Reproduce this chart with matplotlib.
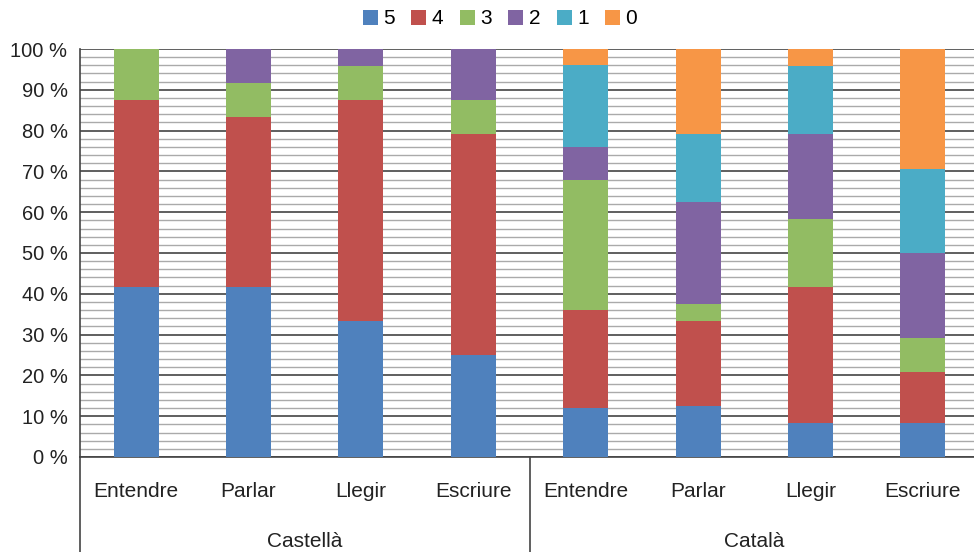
import numpy as np
import matplotlib.pyplot as plt
from matplotlib.patches import Patch
from matplotlib.ticker import MultipleLocator, FuncFormatter

plt.rcParams['font.family'] = ['Liberation Sans', 'DejaVu Sans']

# data (percent of answers per score)
skills = ["Entendre", "Parlar", "Llegir", "Escriure"]
groups = ["Castellà", "Català"]
scores = ["5", "4", "3", "2", "1", "0"]
colors = ["#4F81BD", "#C0504D", "#92BC63", "#8064A2", "#4BACC6", "#F79646"]

s5 = [41.7, 41.7, 33.3, 25.0, 12.0, 12.5, 8.3, 8.3]
s4 = [45.8, 41.7, 54.2, 54.2, 24.0, 20.8, 33.3, 12.5]
s3 = [12.5, 8.3, 8.3, 8.3, 32.0, 4.2, 16.7, 8.3]
s2 = [0.0, 8.3, 4.2, 12.5, 8.0, 25.0, 20.8, 20.8]
s1 = [0.0, 0.0, 0.0, 0.0, 20.0, 16.7, 16.7, 20.8]
s0 = [0.0, 0.0, 0.0, 0.0, 4.0, 20.8, 4.2, 29.2]
series = [s5, s4, s3, s2, s1, s0]

fig = plt.figure(figsize=(9.74, 5.52), dpi=100)
ax = fig.add_axes([80 / 974, 95 / 552, 899 / 974, 408 / 552])

x = np.arange(len(groups) * len(skills))
bottom = np.zeros(len(x))
for vals, col in zip(series, colors):
    vals = np.array(vals)
    ax.bar(x, vals, bottom=bottom, width=0.4, color=col, zorder=3)
    bottom += vals

ax.set_xlim(-0.5, len(x) - 0.5)
ax.set_ylim(0, 100)
ax.yaxis.set_major_locator(MultipleLocator(10))
ax.yaxis.set_minor_locator(MultipleLocator(2))
ax.yaxis.set_major_formatter(FuncFormatter(lambda v, p: f"{v:.0f} %"))
ax.grid(which='major', axis='y', color='#444444', linewidth=1.2, zorder=0)
ax.grid(which='minor', axis='y', color='#aaaaaa', linewidth=1.0, zorder=0)
ax.tick_params(axis='y', which='both', length=0, labelsize=14.5, colors='#222222', pad=9)
ax.tick_params(axis='x', length=0)
ax.set_xticks([])
for side in ['top', 'right']:
    ax.spines[side].set_visible(False)
ax.spines['left'].set_visible(False)
ax.spines['bottom'].set_color('#444444')
ax.spines['bottom'].set_linewidth(1.2)

# category and group labels below the axis
trans = ax.get_xaxis_transform()
for i, xi in enumerate(x):
    ax.text(xi, -0.085, skills[i % len(skills)], transform=trans,
            ha='center', va='center', fontsize=15, color='#222222')
for g, name in enumerate(groups):
    mid = g * len(skills) + (len(skills) - 1) / 2
    ax.text(mid, -0.207, name, transform=trans,
            ha='center', va='center', fontsize=15, color='#222222')

# separators
for xs in [-0.5, len(skills) - 0.5]:
    ax.plot([xs, xs], [0, -0.25], transform=trans, color='#444444',
            linewidth=1.2, clip_on=False)
ax.plot([-0.5, -0.5], [0, 1], transform=trans, color='#444444',
        linewidth=1.2, clip_on=False)

handles = [Patch(facecolor=c, label=s) for s, c in zip(scores, colors)]
fig.legend(handles=handles, loc='center', bbox_to_anchor=(500 / 974, 1 - 19 / 552),
           ncol=6, frameon=False, fontsize=15, handlelength=0.72, handleheight=0.72,
           handletextpad=0.25, columnspacing=0.8)

fig.savefig("out.png", dpi=100)
